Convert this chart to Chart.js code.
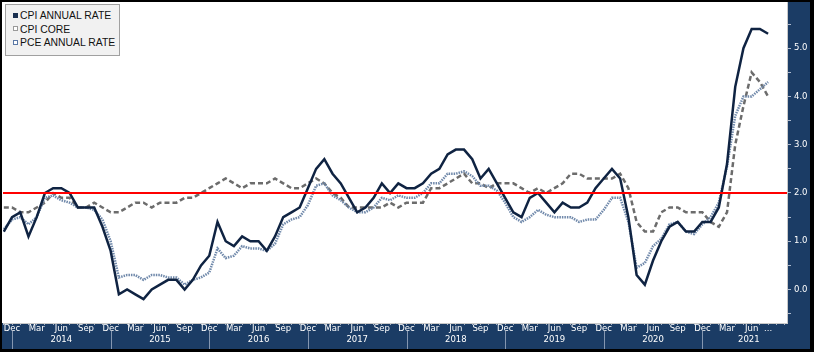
<!DOCTYPE html>
<html>
<head>
<meta charset="utf-8">
<script src="https://cdn.jsdelivr.net/npm/chart.js@4.4.0/dist/chart.umd.min.js"></script>
<style>
  html, body { margin: 0; padding: 0; background: #fff; }
  #wrap { position: relative; width: 814px; height: 352px; }
  #legend {
    position: absolute; left: 5px; top: 4px; width: 115px; height: 52px;
    box-sizing: border-box; background: #f1f1f1; border: 1px solid #a0a0a0;
    font: 10.4px "Liberation Sans", Arial, sans-serif; color: #111;
    padding: 4px 0 0 7px;
  }
  #legend div { height: 13.5px; line-height: 13.5px; white-space: nowrap; }
  #legend .box {
    display: inline-block; width: 5px; height: 5px; margin-right: 2px;
    vertical-align: middle; position: relative; top: -1px; box-sizing: border-box;
  }
</style>
</head>
<body>
<div id="wrap">
  <canvas id="inflationChart" width="814" height="352"></canvas>
  <div id="legend">
    <div><span class="box" style="background:#1a2f50"></span>CPI ANNUAL RATE</div>
    <div><span class="box" style="background:#fff;border:1px solid #9a9a9a"></span>CPI CORE</div>
    <div><span class="box" style="background:#fff;border:1px solid #5a78a6"></span>PCE ANNUAL RATE</div>
  </div>
</div>
<script>
// first point = Nov 2013, monthly through Aug 2021
var firstYear = 2013, firstMonth = 10;
var monthNames = ['Jan', 'Feb', 'Mar', 'Apr', 'May', 'Jun', 'Jul', 'Aug', 'Sep', 'Oct', 'Nov', 'Dec'];
var axisMonths = ['Dec', 'Mar', 'Jun', 'Sep'];
var yearLabels = ['2014', '2015', '2016', '2017', '2018', '2019', '2020', '2021'];
var yTickValues = [-0.5, 0, 0.5, 1, 1.5, 2, 2.5, 3, 3.5, 4, 4.5, 5, 5.5];

var cpiAnnual = [1.2, 1.5,
    1.6, 1.1, 1.5, 2.0, 2.1, 2.1, 2.0, 1.7, 1.7, 1.7, 1.3, 0.8,
    -0.1, 0.0, -0.1, -0.2, 0.0, 0.1, 0.2, 0.2, 0.0, 0.2, 0.5, 0.7,
    1.4, 1.0, 0.9, 1.1, 1.0, 1.0, 0.8, 1.1, 1.5, 1.6, 1.7, 2.1,
    2.5, 2.7, 2.4, 2.2, 1.9, 1.6, 1.7, 1.9, 2.2, 2.0, 2.2, 2.1,
    2.1, 2.2, 2.4, 2.5, 2.8, 2.9, 2.9, 2.7, 2.3, 2.5, 2.2, 1.9,
    1.6, 1.5, 1.9, 2.0, 1.8, 1.6, 1.8, 1.7, 1.7, 1.8, 2.1, 2.3,
    2.5, 2.3, 1.5, 0.3, 0.1, 0.6, 1.0, 1.3, 1.4, 1.2, 1.2, 1.4,
    1.4, 1.7, 2.6, 4.2, 5.0, 5.4, 5.4, 5.3];

var cpiCore = [1.7, 1.7,
    1.6, 1.6, 1.7, 1.8, 2.0, 1.9, 1.9, 1.7, 1.7, 1.8, 1.7, 1.6,
    1.6, 1.7, 1.8, 1.8, 1.7, 1.8, 1.8, 1.8, 1.9, 1.9, 2.0, 2.1,
    2.2, 2.3, 2.2, 2.1, 2.2, 2.2, 2.2, 2.3, 2.2, 2.1, 2.1, 2.2,
    2.3, 2.2, 2.0, 1.9, 1.7, 1.7, 1.7, 1.7, 1.7, 1.8, 1.7, 1.8,
    1.8, 1.8, 2.1, 2.1, 2.2, 2.3, 2.4, 2.2, 2.2, 2.1, 2.2, 2.2,
    2.2, 2.1, 2.0, 2.1, 2.0, 2.1, 2.2, 2.4, 2.4, 2.3, 2.3, 2.3,
    2.3, 2.4, 2.1, 1.4, 1.2, 1.2, 1.6, 1.7, 1.7, 1.6, 1.6, 1.6,
    1.4, 1.3, 1.6, 3.0, 3.8, 4.5, 4.3, 4.0];

var pceAnnual = [1.25, 1.45,
    1.5, 1.35, 1.5, 1.9, 1.95, 1.85, 1.8, 1.7, 1.7, 1.65, 1.45, 1.0,
    0.25, 0.3, 0.3, 0.2, 0.3, 0.3, 0.25, 0.25, 0.1, 0.2, 0.25, 0.35,
    0.85, 0.65, 0.7, 0.9, 0.85, 0.85, 0.8, 0.95, 1.35, 1.45, 1.5, 1.75,
    2.15, 2.2, 1.95, 1.85, 1.7, 1.6, 1.6, 1.7, 1.9, 1.85, 1.95, 1.9,
    1.9, 2.0, 2.2, 2.2, 2.4, 2.4, 2.45, 2.35, 2.15, 2.15, 2.05, 1.8,
    1.5, 1.4, 1.5, 1.65, 1.55, 1.5, 1.5, 1.5, 1.4, 1.45, 1.45, 1.65,
    1.9, 1.9, 1.4, 0.45, 0.55, 0.9, 1.05, 1.35, 1.4, 1.2, 1.15, 1.35,
    1.5, 1.8, 2.55, 3.6, 4.0, 4.0, 4.15, 4.3];

var targetRate = 2.0;

var navy = '#1b3c65';
var axisFont = '"DejaVu Sans", Verdana, sans-serif';
var xMin = -0.1, xMax = 95.3;
var lastIndex = cpiAnnual.length - 1;

function monthName(i) {
    return monthNames[(firstMonth + i) % 12];
}

function toPoints(arr) {
    return arr.map(function (v, i) { return { x: i, y: v }; });
}

var panels = {
    id: 'panels',
    beforeDraw: function (chart) {
        var ctx = chart.ctx, a = chart.chartArea, W = chart.width, H = chart.height;
        ctx.save();
        ctx.fillStyle = '#fff';
        ctx.fillRect(0, 0, W, H);
        ctx.fillStyle = navy;
        ctx.fillRect(a.right, 2, W - 4 - a.right, H - 5);
        ctx.fillRect(2, a.bottom, a.right - 2, H - 3 - a.bottom);
        ctx.restore();
    },
    afterDatasetsDraw: function (chart) {
        var ctx = chart.ctx, a = chart.chartArea;
        var y = Math.round(chart.scales.y.getPixelForValue(targetRate));
        ctx.save();
        ctx.strokeStyle = '#ff0000';
        ctx.lineWidth = 2;
        ctx.beginPath();
        ctx.moveTo(a.left, y);
        ctx.lineTo(a.right, y);
        ctx.stroke();
        ctx.restore();
    },
    afterDraw: function (chart) {
        var ctx = chart.ctx, a = chart.chartArea, W = chart.width, H = chart.height;
        var xs = chart.scales.x;
        ctx.save();
        // year separators + labels
        ctx.strokeStyle = '#8496b0';
        ctx.lineWidth = 1;
        ctx.fillStyle = '#fff';
        ctx.font = '8.5px ' + axisFont;
        ctx.textAlign = 'center';
        ctx.textBaseline = 'middle';
        yearLabels.forEach(function (yr, k) {
            var dec = 1 + 12 * k;
            var px = Math.round(xs.getPixelForValue(dec)) + 0.5;
            ctx.beginPath();
            ctx.moveTo(px, a.bottom + 8);
            ctx.lineTo(px, H - 3);
            ctx.stroke();
            var end = Math.min(dec + 12, xMax + 1);
            ctx.fillText(yr, xs.getPixelForValue((dec + end) / 2), a.bottom + 16.5);
        });
        // outer frame
        ctx.fillStyle = '#000';
        ctx.fillRect(0, 0, W, 2);
        ctx.fillRect(0, 0, 2, H);
        ctx.fillRect(W - 4, 0, 4, H);
        ctx.fillRect(0, H - 3, W, 3);
        ctx.restore();
    }
};

var ctx = document.getElementById('inflationChart').getContext('2d');
var myChart = new Chart(ctx, {
    type: 'line',
    data: {
        datasets: [{
            label: 'CPI ANNUAL RATE',
            data: toPoints(cpiAnnual),
            borderColor: '#0f2342',
            borderWidth: 2.5
        }, {
            label: 'PCE ANNUAL RATE',
            data: toPoints(pceAnnual),
            borderColor: '#6f88aa',
            borderWidth: 2.5,
            borderDash: [1.5, 1]
        }, {
            label: 'CPI CORE',
            data: toPoints(cpiCore),
            borderColor: '#6c6c6c',
            borderWidth: 2.5,
            borderDash: [5, 3]
        }]
    },
    options: {
        responsive: false,
        animation: false,
        devicePixelRatio: 1,
        layout: { padding: { left: 3, top: 2, right: 4, bottom: 3 } },
        elements: {
            point: { radius: 0 },
            line: { tension: 0, fill: false }
        },
        plugins: {
            legend: { display: false },
            tooltip: { enabled: false }
        },
        scales: {
            x: {
                type: 'linear',
                min: xMin,
                max: xMax,
                afterBuildTicks: function (scale) {
                    var t = [];
                    for (var i = 0; i <= Math.floor(xMax); i++) t.push({ value: i });
                    scale.ticks = t;
                },
                afterFit: function (scale) {
                    scale.height = 26;
                    scale.paddingLeft = 0;
                    scale.paddingRight = 0;
                },
                grid: { drawOnChartArea: false, tickLength: 2, color: '#a6b4c8' },
                border: { display: true, color: '#c8c8c8' },
                ticks: {
                    autoSkip: false,
                    maxRotation: 0,
                    minRotation: 0,
                    padding: 0,
                    color: '#fff',
                    font: { family: axisFont, size: 8.5, lineHeight: 1 },
                    callback: function (v) {
                        if (v === lastIndex) return '...';
                        if (v > lastIndex) return '';
                        var m = monthName(v);
                        return axisMonths.indexOf(m) >= 0 ? m : '';
                    }
                }
            },
            y: {
                position: 'right',
                min: -0.694,
                max: 5.958,
                afterBuildTicks: function (scale) {
                    scale.ticks = yTickValues.map(function (v) { return { value: v }; });
                },
                afterFit: function (scale) {
                    scale.width = 23;
                    scale.paddingTop = 0;
                    scale.paddingBottom = 0;
                },
                grid: { drawOnChartArea: false, tickLength: 4, color: '#aebbd0' },
                border: { display: true, color: '#c8c8c8' },
                ticks: {
                    padding: 3,
                    color: '#fff',
                    font: { family: axisFont, size: 8.5 },
                    callback: function (v) {
                        return Number.isInteger(v) ? v.toFixed(1) : '';
                    }
                }
            }
        }
    },
    plugins: [panels]
});
</script>
</body>
</html>
